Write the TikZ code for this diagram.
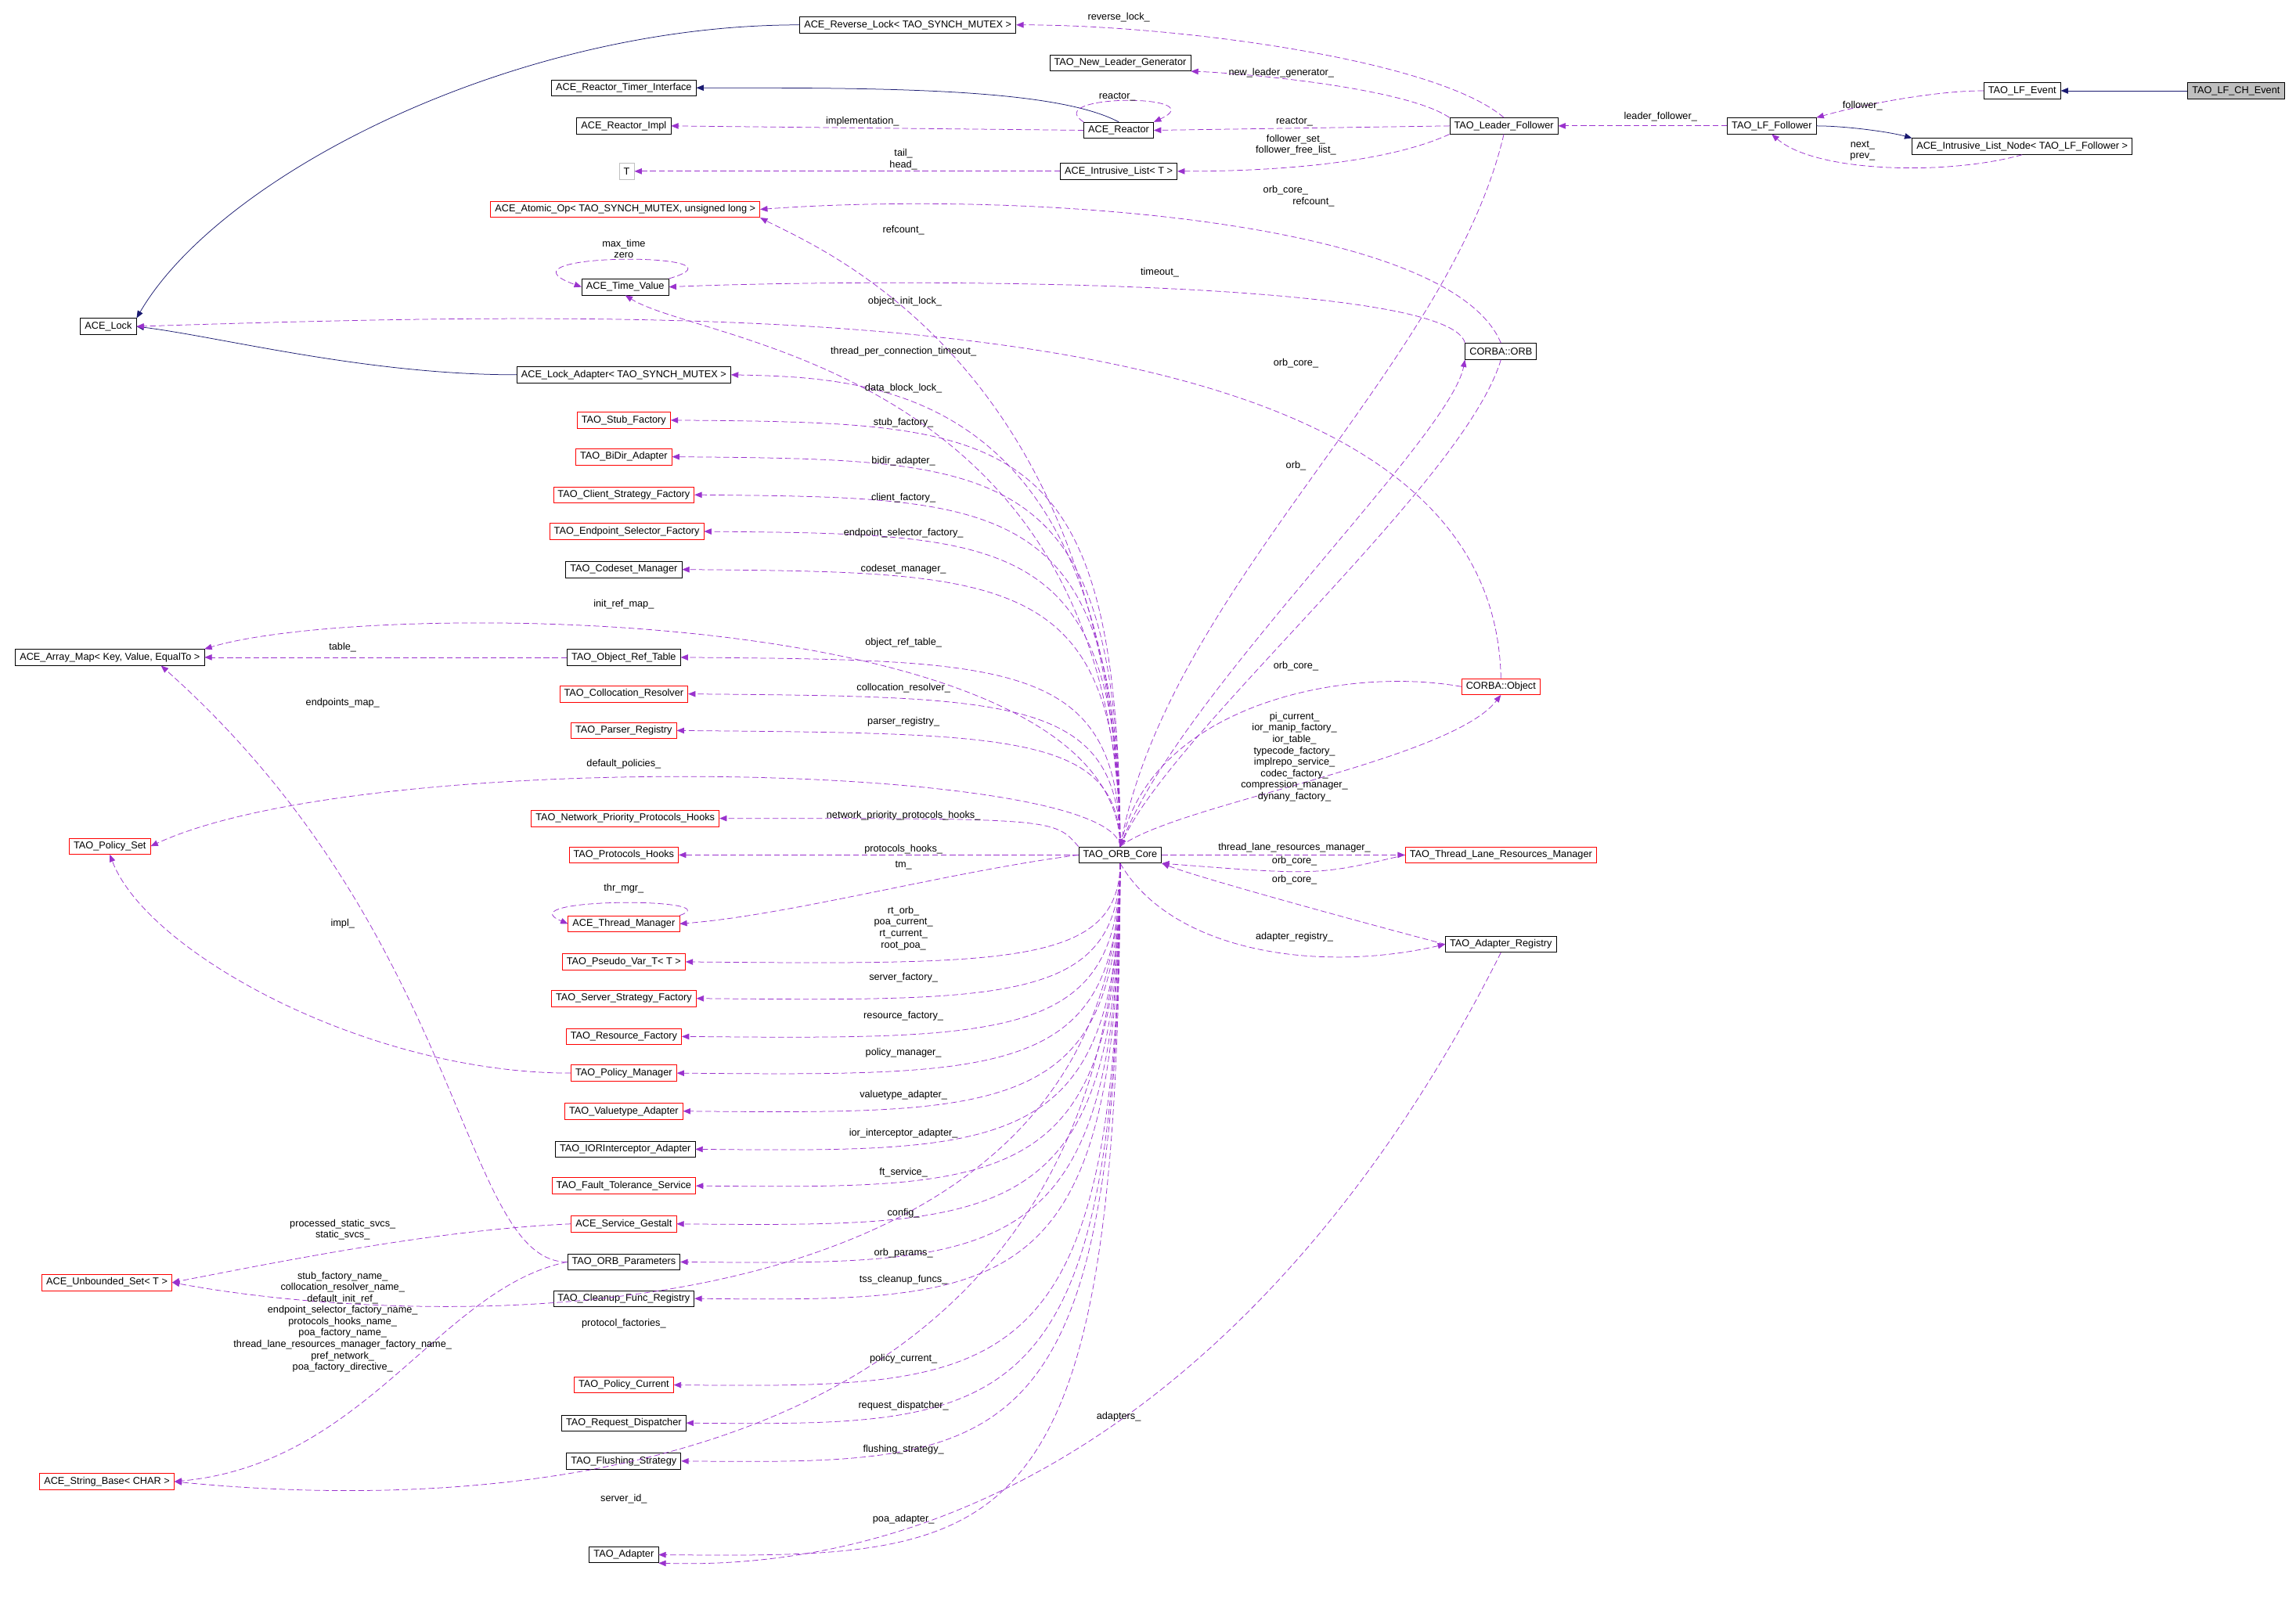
\documentclass[tikz,border=0pt]{standalone}
\usepackage{fontspec}
\setmainfont{Liberation Sans}
\usetikzlibrary{arrows.meta}
\definecolor{mp}{HTML}{9A32CD}
\definecolor{ib}{HTML}{191970}
\tikzset{
 box/.style={draw,font=\fontsize{6.8}{7.8}\selectfont,inner xsep=3pt,inner ysep=0pt,minimum height=11pt},
 rbox/.style={box,draw=red},
 lbl/.style={font=\fontsize{6.8}{7.8}\selectfont,align=center,inner sep=0pt},
 mem/.style={mp,dashed,dash pattern=on 4pt off 2pt,-{Triangle[length=5pt,width=4pt]}},
 inh/.style={ib,-{Triangle[length=5pt,width=4pt]}}
}
\begin{document}
\begin{tikzpicture}[x=1pt,y=-1pt]
\useasboundingbox (0,0) rectangle (1568,1097);
% nodes
\node[box] (rlock) at (620,17) {ACE\_Reverse\_Lock< TAO\_SYNCH\_MUTEX >};
\node[box] (nlg) at (765,43) {TAO\_New\_Leader\_Generator};
\node[box] (rti) at (426,60) {ACE\_Reactor\_Timer\_Interface};
\node[box] (rimpl) at (426,86) {ACE\_Reactor\_Impl};
\node[box] (reactor) at (764,89) {ACE\_Reactor};
\node[box] (lf) at (1027,86) {TAO\_Leader\_Follower};
\node[box] (lff) at (1210,86) {TAO\_LF\_Follower};
\node[box] (lfe) at (1381,62) {TAO\_LF\_Event};
\node[box,fill=black!25] (lfche) at (1527,62) {TAO\_LF\_CH\_Event};
\node[box] (iln) at (1381,100) {ACE\_Intrusive\_List\_Node< TAO\_LF\_Follower >};
\node[box,draw=black!25] (T) at (428,117) {T};
\node[box] (ilist) at (764,117) {ACE\_Intrusive\_List< T >};
\node[rbox] (atomic) at (427,143) {ACE\_Atomic\_Op< TAO\_SYNCH\_MUTEX, unsigned long >};
\node[box] (tv) at (427,196) {ACE\_Time\_Value};
\node[box] (alock) at (74,223) {ACE\_Lock};
\node[box] (ladapt) at (426,256) {ACE\_Lock\_Adapter< TAO\_SYNCH\_MUTEX >};
\node[box] (orb) at (1025,240) {CORBA::ORB};
\node[rbox] (stub) at (426,287) {TAO\_Stub\_Factory};
\node[rbox] (bidir) at (426,312) {TAO\_BiDir\_Adapter};
\node[rbox] (csf) at (426,338) {TAO\_Client\_Strategy\_Factory};
\node[rbox] (esf) at (428,363) {TAO\_Endpoint\_Selector\_Factory};
\node[box] (cm) at (426,389) {TAO\_Codeset\_Manager};
\node[box] (am) at (75,449) {ACE\_Array\_Map< Key, Value, EqualTo >};
\node[box] (ort) at (426,449) {TAO\_Object\_Ref\_Table};
\node[rbox] (cr) at (426,474) {TAO\_Collocation\_Resolver};
\node[rbox] (pr) at (426,499) {TAO\_Parser\_Registry};
\node[rbox] (obj) at (1025,469) {CORBA::Object};
\node[rbox] (pset) at (75,578) {TAO\_Policy\_Set};
\node[rbox] (npph) at (427,559) {TAO\_Network\_Priority\_Protocols\_Hooks};
\node[rbox] (ph) at (426,584) {TAO\_Protocols\_Hooks};
\node[box] (core) at (765,584) {TAO\_ORB\_Core};
\node[rbox] (tlrm) at (1025,584) {TAO\_Thread\_Lane\_Resources\_Manager};
\node[rbox] (tm) at (426,631) {ACE\_Thread\_Manager};
\node[box] (ar) at (1025,645) {TAO\_Adapter\_Registry};
\node[rbox] (pv) at (426,657) {TAO\_Pseudo\_Var\_T< T >};
\node[rbox] (ssf) at (426,682) {TAO\_Server\_Strategy\_Factory};
\node[rbox] (rf) at (426,708) {TAO\_Resource\_Factory};
\node[rbox] (pm) at (426,733) {TAO\_Policy\_Manager};
\node[rbox] (va) at (426,759) {TAO\_Valuetype\_Adapter};
\node[box] (iora) at (427,785) {TAO\_IORInterceptor\_Adapter};
\node[rbox] (fts) at (426,810) {TAO\_Fault\_Tolerance\_Service};
\node[rbox] (sg) at (426,836) {ACE\_Service\_Gestalt};
\node[box] (op) at (426,862) {TAO\_ORB\_Parameters};
\node[rbox] (us) at (73,876) {ACE\_Unbounded\_Set< T >};
\node[box] (cfr) at (426,887) {TAO\_Cleanup\_Func\_Registry};
\node[rbox] (pc) at (426,946) {TAO\_Policy\_Current};
\node[box] (rd) at (426,972) {TAO\_Request\_Dispatcher};
\node[box] (fs) at (426,998) {TAO\_Flushing\_Strategy};
\node[rbox] (sb) at (73,1012) {ACE\_String\_Base< CHAR >};
\node[box] (ad) at (426,1062) {TAO\_Adapter};
% inheritance
\draw[inh] (rlock.west) .. controls (350,17) and (150,120) .. (alock.north east);
\draw[inh] (ladapt.west) .. controls (250,256) and (150,230) .. (alock.east);
\draw[inh] (reactor.north) .. controls (720,60) and (600,60) .. (rti.east);
\draw[inh] (lfche.west) -- (lfe.east);
\draw[inh] (lff.east) .. controls (1260,86) and (1290,90) .. (iln.north west);
% members (top area)
\draw[mem] (lf.north) .. controls (980,40) and (800,17) .. (rlock.east);
\draw[mem] (lf.north west) .. controls (960,60) and (850,50) .. (nlg.south east);
\draw[mem] (lf.west) -- (reactor.east);
\draw[mem] (reactor.north west) .. controls (710,64) and (830,64) .. (reactor.north east);
\draw[mem] (reactor.west) -- (rimpl.east);
\draw[mem] (ilist.west) -- (T.east);
\draw[mem] (lf.south west) .. controls (950,110) and (880,117) .. (ilist.east);
\draw[mem] (lff.west) -- (lf.east);
\draw[mem] (lfe.west) .. controls (1320,62) and (1270,72) .. (lff.north east);
\draw[mem] (iln.south) .. controls (1330,120) and (1240,118) .. (lff.south);
\draw[mem] (lf.south) .. controls (990,250) and (800,400) .. (core.north);
\draw[mem] (orb.north) .. controls (990,150) and (700,130) .. (atomic.east);
\draw[mem] (core.north) .. controls (760,250) and (560,170) .. (atomic.south east);
\draw[mem] (tv.north east) .. controls (520,172) and (330,172) .. (tv.west);
\draw[mem] (orb.north west) .. controls (990,190) and (600,190) .. (tv.east);
\draw[mem] (obj.north) .. controls (1020,200) and (500,210) .. (alock.east);
\draw[mem] (core.north) .. controls (762,250) and (480,235) .. (tv.south);
\draw[mem] (core.north) .. controls (762,265) and (600,258) .. (ladapt.east);
\draw[mem] (orb.south) .. controls (1000,330) and (800,500) .. (core.north);
\draw[mem] (core.north) .. controls (800,480) and (990,300) .. (orb.south west);
\foreach \t/\ty in {stub/289,bidir/314,csf/340,esf/365,cm/391,ort/451,cr/476,pr/501}{
  \draw[mem] (core.north) .. controls (764,\ty) and (690,\ty) .. (\t.east);
}
\draw[mem] (core.north) .. controls (762,410) and (250,410) .. (am.north east);
\draw[mem] (ort.west) -- (am.east);
\draw[mem] (op.west) .. controls (315,862) and (318,640) .. ([xshift=35pt]am.south);
\draw[mem] (core.north) .. controls (760,520) and (250,510) .. (pset.east);
\draw[mem] (core.north west) .. controls (720,559) .. (npph.east);
\draw[mem] (core.west) -- (ph.east);
\draw[mem] (core.west) .. controls (650,595) and (540,625) .. (tm.east);
\draw[mem] (tm.north east) .. controls (500,613) and (345,613) .. (tm.west);
\draw[mem] (pm.west) .. controls (250,733) and (100,650) .. (pset.south);
\foreach \t/\ty in {pv/659,ssf/684,rf/710,pm/735,va/761,iora/787,fts/812,sg/838,op/864,cfr/889,pc/948,rd/974,fs/1000,ad/1064}{
  \draw[mem] (core.south) .. controls (764,\ty) and (690,\ty) .. (\t.east);
}
\draw[mem] (core.south) .. controls (764,920) and (300,910) .. (us.east);
\draw[mem] (core.south) .. controls (764,1035) and (300,1030) .. (sb.east);
\draw[mem] (sg.west) .. controls (300,840) and (200,860) .. (us.east);
\draw[mem] (op.west) .. controls (300,880) and (250,1000) .. (sb.east);
\draw[mem] (obj.west) .. controls (920,455) and (790,480) .. (core.north);
\draw[mem] (core.north) .. controls (800,550) and (990,520) .. (obj.south);
\draw[mem] (core.east) -- (tlrm.west);
\draw[mem] (tlrm.west) .. controls (900,598) .. (core.south east);
\draw[mem] (ar.west) .. controls (930,630) and (820,600) .. (core.south east);
\draw[mem] (core.south) .. controls (800,650) and (900,665) .. (ar.west);
\draw[mem] (ar.south) .. controls (900,900) and (700,1075) .. (ad.south east);
% labels
\node[lbl] at (764,12) {reverse\_lock\_};
\node[lbl] at (875,50) {new\_leader\_generator\_};
\node[lbl] at (763,66) {reactor\_};
\node[lbl] at (884,83) {reactor\_};
\node[lbl] at (589,83) {implementation\_};
\node[lbl] at (617,109) {tail\_\\head\_};
\node[lbl] at (885,99) {follower\_set\_\\follower\_free\_list\_};
\node[lbl] at (1134,80) {leader\_follower\_};
\node[lbl] at (1272,72) {follower\_};
\node[lbl] at (1272,103) {next\_\\prev\_};
\node[lbl] at (878,130) {orb\_core\_};
\node[lbl] at (897,138) {refcount\_};
\node[lbl] at (617,157) {refcount\_};
\node[lbl] at (426,170) {max\_time\\zero};
\node[lbl] at (792,186) {timeout\_};
\node[lbl] at (618,206) {object\_init\_lock\_};
\node[lbl] at (617,240) {thread\_per\_connection\_timeout\_};
\node[lbl] at (617,265) {data\_block\_lock\_};
\node[lbl] at (885,248) {orb\_core\_};
\node[lbl] at (617,289) {stub\_factory\_};
\node[lbl] at (617,315) {bidir\_adapter\_};
\node[lbl] at (885,318) {orb\_};
\node[lbl] at (617,340) {client\_factory\_};
\node[lbl] at (617,364) {endpoint\_selector\_factory\_};
\node[lbl] at (617,389) {codeset\_manager\_};
\node[lbl] at (426,413) {init\_ref\_map\_};
\node[lbl] at (234,442) {table\_};
\node[lbl] at (617,439) {object\_ref\_table\_};
\node[lbl] at (885,455) {orb\_core\_};
\node[lbl] at (617,470) {collocation\_resolver\_};
\node[lbl] at (234,480) {endpoints\_map\_};
\node[lbl] at (617,493) {parser\_registry\_};
\node[lbl] at (884,517) {pi\_current\_\\ior\_manip\_factory\_\\ior\_table\_\\typecode\_factory\_\\implrepo\_service\_\\codec\_factory\_\\compression\_manager\_\\dynany\_factory\_};
\node[lbl] at (426,522) {default\_policies\_};
\node[lbl] at (617,557) {network\_priority\_protocols\_hooks\_};
\node[lbl] at (884,579) {thread\_lane\_resources\_manager\_};
\node[lbl] at (884,588) {orb\_core\_};
\node[lbl] at (884,601) {orb\_core\_};
\node[lbl] at (617,580) {protocols\_hooks\_};
\node[lbl] at (617,591) {tm\_};
\node[lbl] at (426,607) {thr\_mgr\_};
\node[lbl] at (234,631) {impl\_};
\node[lbl] at (617,634) {rt\_orb\_\\poa\_current\_\\rt\_current\_\\root\_poa\_};
\node[lbl] at (884,640) {adapter\_registry\_};
\node[lbl] at (617,668) {server\_factory\_};
\node[lbl] at (617,694) {resource\_factory\_};
\node[lbl] at (617,719) {policy\_manager\_};
\node[lbl] at (617,748) {valuetype\_adapter\_};
\node[lbl] at (617,774) {ior\_interceptor\_adapter\_};
\node[lbl] at (617,801) {ft\_service\_};
\node[lbl] at (617,829) {config\_};
\node[lbl] at (234,840) {processed\_static\_svcs\_\\static\_svcs\_};
\node[lbl] at (617,856) {orb\_params\_};
\node[lbl] at (617,874) {tss\_cleanup\_funcs\_};
\node[lbl] at (234,903) {stub\_factory\_name\_\\collocation\_resolver\_name\_\\default\_init\_ref\_\\endpoint\_selector\_factory\_name\_\\protocols\_hooks\_name\_\\poa\_factory\_name\_\\thread\_lane\_resources\_manager\_factory\_name\_\\pref\_network\_\\poa\_factory\_directive\_};
\node[lbl] at (426,904) {protocol\_factories\_};
\node[lbl] at (617,928) {policy\_current\_};
\node[lbl] at (617,960) {request\_dispatcher\_};
\node[lbl] at (617,990) {flushing\_strategy\_};
\node[lbl] at (764,968) {adapters\_};
\node[lbl] at (426,1024) {server\_id\_};
\node[lbl] at (617,1038) {poa\_adapter\_};
\end{tikzpicture}
\end{document}
